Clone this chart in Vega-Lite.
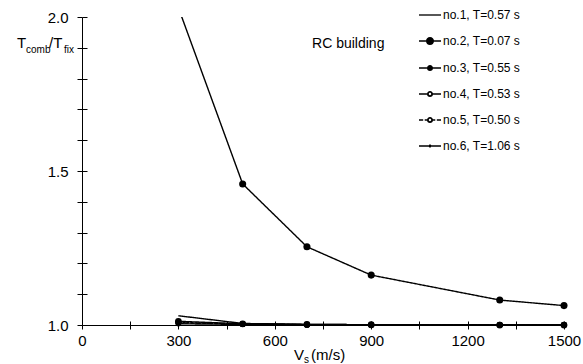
{
  "$schema": "https://vega.github.io/schema/vega-lite/v6.json",
  "width": 482,
  "height": 308,
  "autosize": {"type": "none"},
  "padding": {"left": 82, "top": 17, "right": 19, "bottom": 39},
  "background": "white",
  "config": {"view": {"stroke": null}, "font": "Liberation Sans"},
  "data": {
    "values": [
      {"id": "no.1", "series": "no.1, T=0.57 s", "vs": 300, "ratio": 1.03},
      {"id": "no.1", "series": "no.1, T=0.57 s", "vs": 500, "ratio": 1.005},
      {"id": "no.1", "series": "no.1, T=0.57 s", "vs": 700, "ratio": 1.002},
      {"id": "no.1", "series": "no.1, T=0.57 s", "vs": 900, "ratio": 1.001},
      {"id": "no.1", "series": "no.1, T=0.57 s", "vs": 1300, "ratio": 1.0},
      {"id": "no.1", "series": "no.1, T=0.57 s", "vs": 1500, "ratio": 1.0},
      {"id": "no.2", "series": "no.2, T=0.07 s", "vs": 300, "ratio": 2.03},
      {"id": "no.2", "series": "no.2, T=0.07 s", "vs": 500, "ratio": 1.458},
      {"id": "no.2", "series": "no.2, T=0.07 s", "vs": 700, "ratio": 1.254},
      {"id": "no.2", "series": "no.2, T=0.07 s", "vs": 900, "ratio": 1.162},
      {"id": "no.2", "series": "no.2, T=0.07 s", "vs": 1300, "ratio": 1.081},
      {"id": "no.2", "series": "no.2, T=0.07 s", "vs": 1500, "ratio": 1.063},
      {"id": "no.3", "series": "no.3, T=0.55 s", "vs": 300, "ratio": 1.012},
      {"id": "no.3", "series": "no.3, T=0.55 s", "vs": 500, "ratio": 1.004},
      {"id": "no.3", "series": "no.3, T=0.55 s", "vs": 700, "ratio": 1.002},
      {"id": "no.3", "series": "no.3, T=0.55 s", "vs": 900, "ratio": 1.001},
      {"id": "no.3", "series": "no.3, T=0.55 s", "vs": 1300, "ratio": 1.0},
      {"id": "no.3", "series": "no.3, T=0.55 s", "vs": 1500, "ratio": 1.0},
      {"id": "no.4", "series": "no.4, T=0.53 s", "vs": 300, "ratio": 1.008},
      {"id": "no.4", "series": "no.4, T=0.53 s", "vs": 500, "ratio": 1.003},
      {"id": "no.4", "series": "no.4, T=0.53 s", "vs": 700, "ratio": 1.001},
      {"id": "no.4", "series": "no.4, T=0.53 s", "vs": 900, "ratio": 1.0},
      {"id": "no.4", "series": "no.4, T=0.53 s", "vs": 1300, "ratio": 1.0},
      {"id": "no.4", "series": "no.4, T=0.53 s", "vs": 1500, "ratio": 1.0},
      {"id": "no.5", "series": "no.5, T=0.50 s", "vs": 300, "ratio": 1.007},
      {"id": "no.5", "series": "no.5, T=0.50 s", "vs": 500, "ratio": 1.003},
      {"id": "no.5", "series": "no.5, T=0.50 s", "vs": 700, "ratio": 1.001},
      {"id": "no.5", "series": "no.5, T=0.50 s", "vs": 900, "ratio": 1.0},
      {"id": "no.5", "series": "no.5, T=0.50 s", "vs": 1300, "ratio": 1.0},
      {"id": "no.5", "series": "no.5, T=0.50 s", "vs": 1500, "ratio": 1.0},
      {"id": "no.6", "series": "no.6, T=1.06 s", "vs": 300, "ratio": 1.004},
      {"id": "no.6", "series": "no.6, T=1.06 s", "vs": 500, "ratio": 1.002},
      {"id": "no.6", "series": "no.6, T=1.06 s", "vs": 700, "ratio": 1.001},
      {"id": "no.6", "series": "no.6, T=1.06 s", "vs": 900, "ratio": 1.0},
      {"id": "no.6", "series": "no.6, T=1.06 s", "vs": 1300, "ratio": 1.0},
      {"id": "no.6", "series": "no.6, T=1.06 s", "vs": 1500, "ratio": 1.0}
    ]
  },
  "layer": [
    {
      "mark": {"type": "line", "clip": true, "color": "black", "strokeWidth": 1.4},
      "encoding": {
        "x": {
          "field": "vs", "type": "quantitative",
          "scale": {"domain": [0, 1500], "nice": false},
          "axis": {
            "title": null,
            "values": [0, 150, 300, 450, 600, 750, 900, 1050, 1200, 1350, 1500],
            "tickCount": 20,
            "labelExpr": "datum.value % 300 === 0 ? datum.label : ''",
            "format": "d",
            "domainColor": "black", "domainWidth": 1,
            "tickColor": "black", "tickWidth": 1, "tickSize": 4,
            "grid": true, "gridColor": "black", "gridWidth": 1, "gridOpacity": 1,
            "gridDash": [4, 304], "gridDashOffset": 4,
            "labelFont": "Liberation Sans", "labelFontSize": 15, "labelColor": "black",
            "labelPadding": 4, "labelOverlap": false, "labelFlush": false
          }
        },
        "y": {
          "field": "ratio", "type": "quantitative",
          "scale": {"domain": [1, 2], "nice": false, "zero": false},
          "axis": {
            "title": null,
            "values": [1, 1.1, 1.2, 1.3, 1.4, 1.5, 1.6, 1.7, 1.8, 1.9, 2],
            "tickCount": 20,
            "labelExpr": "round(datum.value * 10) % 5 === 0 ? datum.label : ''",
            "format": ".1f",
            "domainColor": "black", "domainWidth": 1,
            "tickColor": "black", "tickWidth": 1, "tickSize": 5,
            "grid": true, "gridColor": "black", "gridWidth": 1, "gridOpacity": 1,
            "gridDash": [5, 2000],
            "labelFont": "Liberation Sans", "labelFontSize": 15, "labelColor": "black",
            "labelPadding": 9, "labelOverlap": false, "labelFlush": false
          }
        },
        "detail": {"field": "id", "type": "nominal"},
        "strokeDash": {
          "field": "id", "type": "nominal",
          "scale": {
            "domain": ["no.1", "no.2", "no.3", "no.4", "no.5", "no.6"],
            "range": [[1, 0], [1, 0], [1, 0], [3, 1], [4, 2], [1, 0]]
          },
          "legend": null
        }
      }
    },
    {
      "transform": [{"filter": "datum.id !== 'no.1' && datum.ratio <= 2"}],
      "mark": {"type": "point", "filled": true, "color": "black", "opacity": 1},
      "encoding": {
        "x": {"field": "vs", "type": "quantitative"},
        "y": {"field": "ratio", "type": "quantitative"},
        "size": {
          "field": "id", "type": "ordinal",
          "scale": {
            "domain": ["no.2", "no.3", "no.4", "no.5", "no.6"],
            "range": [50, 30, 25, 25, 10]
          },
          "legend": null
        }
      }
    },
    {
      "mark": {"type": "point", "opacity": 0, "clip": true, "filled": false, "color": "black", "fill": "black", "stroke": "black", "strokeWidth": 1.3},
      "encoding": {
        "x": {"field": "vs", "type": "quantitative"},
        "y": {"field": "ratio", "type": "quantitative"},
        "shape": {
          "field": "series", "type": "nominal",
          "scale": {
            "domain": ["no.1, T=0.57 s", "no.2, T=0.07 s", "no.3, T=0.55 s", "no.4, T=0.53 s", "no.5, T=0.50 s", "no.6, T=1.06 s"],
            "range": [
              "M-1,-0.06H1V0.06H-1Z",
              "M-1,-0.06H-0.36V0.06H-1ZM0.36,-0.06H1V0.06H0.36ZM-0.37,0A0.37,0.37 0 1,0 0.37,0A0.37,0.37 0 1,0 -0.37,0Z",
              "M-1,-0.06H-0.27V0.06H-1ZM0.27,-0.06H1V0.06H0.27ZM-0.28,0A0.28,0.28 0 1,0 0.28,0A0.28,0.28 0 1,0 -0.28,0Z",
              "M-1,-0.06H-0.27V0.06H-1ZM0.27,-0.06H1V0.06H0.27ZM-0.28,0A0.28,0.28 0 1,0 0.28,0A0.28,0.28 0 1,0 -0.28,0ZM-0.11,0A0.11,0.11 0 1,1 0.11,0A0.11,0.11 0 1,1 -0.11,0Z",
              "M-1,-0.06H-0.62V0.06H-1ZM-0.48,-0.06H-0.27V0.06H-0.48ZM0.27,-0.06H0.48V0.06H0.27ZM0.62,-0.06H1V0.06H0.62ZM-0.28,0A0.28,0.28 0 1,0 0.28,0A0.28,0.28 0 1,0 -0.28,0ZM-0.11,0A0.11,0.11 0 1,1 0.11,0A0.11,0.11 0 1,1 -0.11,0Z",
              "M-1,-0.06H-0.13V0.06H-1ZM0.13,-0.06H1V0.06H0.13ZM-0.14,0A0.14,0.14 0 1,0 0.14,0A0.14,0.14 0 1,0 -0.14,0Z"
            ]
          },
          "legend": {
            "title": null,
            "orient": "none",
            "legendX": 336,
            "legendY": -14,
            "padding": 0,
            "symbolSize": 484,
            "symbolOpacity": 1,
            "symbolFillColor": "black",
            "symbolStrokeColor": "black",
            "symbolStrokeWidth": 1.3,
            "labelFont": "Liberation Sans",
            "labelFontSize": 12,
            "labelColor": "black",
            "labelOffset": 1,
            "rowPadding": 8,
            "encode": {
              "symbols": {
                "stroke": {"value": "black"},
                "fill": {"value": "black"},
                "strokeWidth": {"value": 1.3},
                "opacity": {"value": 1}
              }
            }
          }
        }
      }
    },
    {
      "data": {"values": [{}]},
      "mark": {"type": "text", "text": "RC building", "align": "left", "baseline": "alphabetic", "fontSize": 14, "font": "Liberation Sans", "color": "black"},
      "encoding": {"x": {"datum": 716}, "y": {"datum": 1.9}}
    },
    {
      "data": {"values": [{}]},
      "mark": {"type": "text", "text": "T", "align": "left", "baseline": "alphabetic", "fontSize": 15, "font": "Liberation Sans", "color": "black", "dx": -65, "dy": 0},
      "encoding": {"x": {"datum": 0}, "y": {"datum": 1.9}}
    },
    {
      "data": {"values": [{}]},
      "mark": {"type": "text", "text": "comb", "align": "left", "baseline": "alphabetic", "fontSize": 10, "font": "Liberation Sans", "color": "black", "dx": -56, "dy": 5},
      "encoding": {"x": {"datum": 0}, "y": {"datum": 1.9}}
    },
    {
      "data": {"values": [{}]},
      "mark": {"type": "text", "text": "/T", "align": "left", "baseline": "alphabetic", "fontSize": 15, "font": "Liberation Sans", "color": "black", "dx": -33, "dy": 0},
      "encoding": {"x": {"datum": 0}, "y": {"datum": 1.9}}
    },
    {
      "data": {"values": [{}]},
      "mark": {"type": "text", "text": "fix", "align": "left", "baseline": "alphabetic", "fontSize": 10, "font": "Liberation Sans", "color": "black", "dx": -18, "dy": 5},
      "encoding": {"x": {"datum": 0}, "y": {"datum": 1.9}}
    },
    {
      "data": {"values": [{}]},
      "mark": {"type": "text", "text": "V", "align": "left", "baseline": "alphabetic", "fontSize": 15, "font": "Liberation Sans", "color": "black", "dx": -29, "dy": 35},
      "encoding": {"x": {"datum": 750}, "y": {"datum": 1.0}}
    },
    {
      "data": {"values": [{}]},
      "mark": {"type": "text", "text": "s", "align": "left", "baseline": "alphabetic", "fontSize": 10, "font": "Liberation Sans", "color": "black", "dx": -19, "dy": 38},
      "encoding": {"x": {"datum": 750}, "y": {"datum": 1.0}}
    },
    {
      "data": {"values": [{}]},
      "mark": {"type": "text", "text": "(m/s)", "align": "left", "baseline": "alphabetic", "fontSize": 15, "font": "Liberation Sans", "color": "black", "dx": -12, "dy": 35},
      "encoding": {"x": {"datum": 750}, "y": {"datum": 1.0}}
    }
  ]
}
